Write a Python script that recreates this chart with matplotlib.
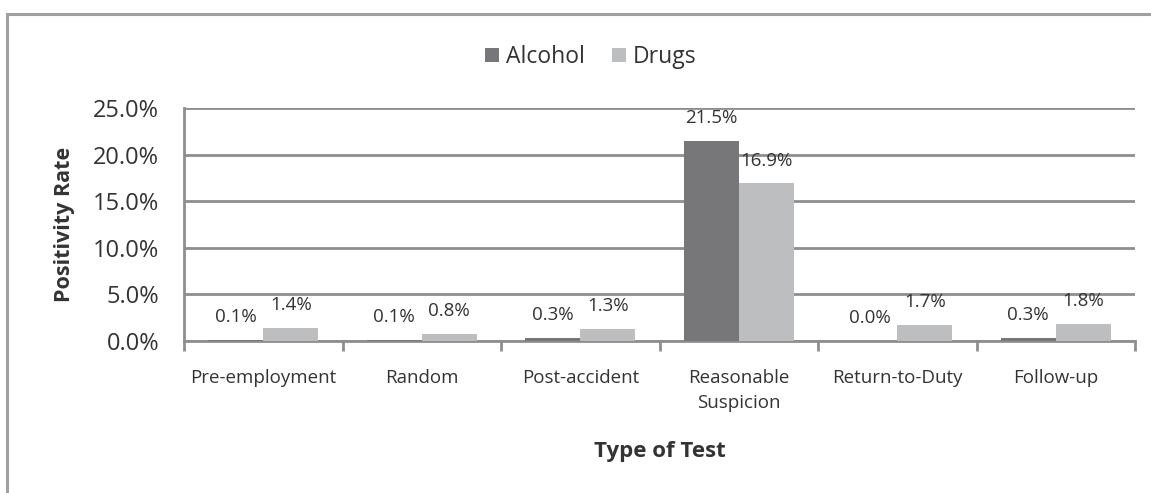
import matplotlib
matplotlib.use("Agg")
import matplotlib.pyplot as plt
import numpy as np
from matplotlib.patches import Rectangle
from matplotlib.ticker import FuncFormatter

categories = ["Pre-employment", "Random", "Post-accident", "Reasonable\nSuspicion", "Return-to-Duty", "Follow-up"]
alcohol = [0.1, 0.1, 0.3, 21.5, 0.0, 0.3]
drugs = [1.4, 0.8, 1.3, 16.9, 1.7, 1.8]
yticks = [0, 5, 10, 15, 20, 25]

plt.rcParams['font.family'] = ['Open Sans', 'DejaVu Sans']
txt = '#333333'
grid_c = '#8e8e90'
c_alc = '#77777a'
c_drg = '#bdbec0'

fig = plt.figure(figsize=(11.51, 4.93), dpi=100)
W, H = 1151, 493
ax = fig.add_axes([184 / W, 1 - 341 / H, (1135 - 184) / W, (341 - 108) / H])

# outer frame
fig.patches.append(Rectangle((7 / W, -0.1), 1.2, 1 - 14 / H + 0.1, transform=fig.transFigure,
                             fill=False, edgecolor='#a0a0a0', linewidth=2.2, zorder=0))

x = np.arange(len(categories))
bw = 0.347
ax.bar(x - bw / 2, alcohol, bw, color=c_alc, label='Alcohol', zorder=3)
ax.bar(x + bw / 2, drugs, bw, color=c_drg, label='Drugs', zorder=3)

for xi, a, d in zip(x, alcohol, drugs):
    ax.annotate(f"{a:.1f}%", (xi - bw / 2, a), xytext=(0, 10), textcoords='offset points',
                ha='center', va='bottom', fontsize=13.5, color=txt, zorder=4)
    ax.annotate(f"{d:.1f}%", (xi + bw / 2, d), xytext=(0, 10), textcoords='offset points',
                ha='center', va='bottom', fontsize=13.5, color=txt, zorder=4)

ax.set_xlim(-0.5, len(categories) - 0.5)
ax.set_ylim(0, 25)
ax.set_yticks(yticks)
ax.yaxis.set_major_formatter(FuncFormatter(lambda v, p: f"{v:.1f}%"))
ax.yaxis.grid(True, color=grid_c, linewidth=2)
ax.set_axisbelow(True)

ax.set_xticks(x)
ax.set_xticklabels(categories, fontsize=13.5, color=txt, linespacing=1.55)
ax.set_xticks(np.arange(len(categories) + 1) - 0.5, minor=True)
ax.tick_params(axis='x', which='major', length=0, pad=20)
ax.tick_params(axis='x', which='minor', length=7, width=2, color=grid_c, direction='out')
ax.tick_params(axis='y', length=0, labelsize=17, colors=txt, pad=18)

for s in ['top', 'right']:
    ax.spines[s].set_visible(False)
for s in ['left', 'bottom']:
    ax.spines[s].set_color(grid_c)
    ax.spines[s].set_linewidth(2)

ax.set_ylabel("Positivity Rate", fontsize=15.5, fontweight='bold', color=txt, labelpad=13)
fig.text(660 / W, 1 - 452 / H, "Type of Test", fontsize=16, fontweight='bold', color=txt,
         ha='center', va='center')

fig.legend(loc='center', bbox_to_anchor=(591 / W, 1 - 57 / H), ncol=2, frameon=False,
           fontsize=16.5, handlelength=0.6, handleheight=0.6, handletextpad=0.3,
           columnspacing=1.2, labelcolor=txt)

fig.savefig("out.png", dpi=100)
